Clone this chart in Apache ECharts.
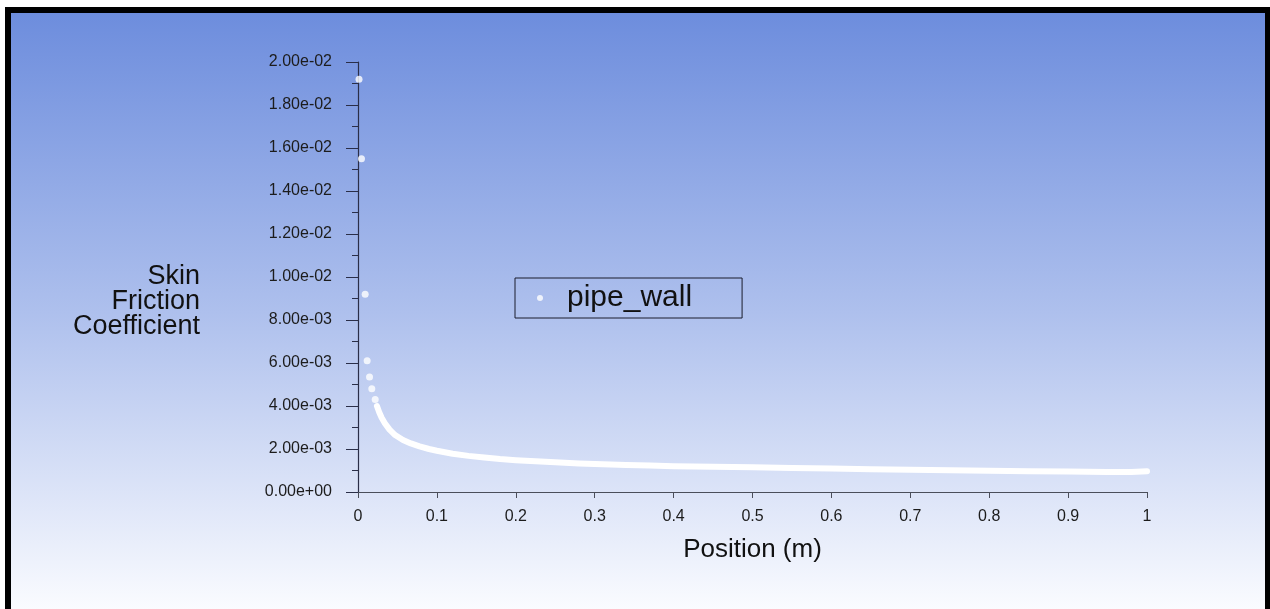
<!DOCTYPE html>
<html>
<head>
<meta charset="utf-8">
<script src="https://cdn.jsdelivr.net/npm/echarts@6/dist/echarts.min.js"></script>
<style>
html,body{margin:0;padding:0;background:#fff;}
#c{width:1270px;height:609px;}
</style>
</head>
<body>
<div id="c"></div>
<script>
// isolated leading points (x in m, Cf)
const leadX = [0.0013, 0.0044, 0.0091, 0.0116, 0.0146, 0.0175, 0.0218];
const leadY = [0.0192, 0.0155, 0.0092, 0.0061, 0.00535, 0.0048, 0.0043];
// dense part of the wall profile
const curveX = [0.024, 0.027, 0.030, 0.034, 0.040, 0.047, 0.057, 0.067, 0.078, 0.09, 0.10, 0.12, 0.14, 0.16, 0.18, 0.20, 0.225, 0.25, 0.28, 0.31, 0.34, 0.37, 0.40, 0.45, 0.50, 0.55, 0.60, 0.65, 0.70, 0.75, 0.80, 0.85, 0.90, 0.95, 0.98, 1.0];
const curveY = [0.0040, 0.0037, 0.00345, 0.0032, 0.0029, 0.00265, 0.00242, 0.00226, 0.00212, 0.0020, 0.00192, 0.00178, 0.00168, 0.0016, 0.00153, 0.00148, 0.00143, 0.00138, 0.00133, 0.00129, 0.00126, 0.00123, 0.0012, 0.00118, 0.00115, 0.00112, 0.00109, 0.00106, 0.00103, 0.00101, 0.00099, 0.00097, 0.00095, 0.00093, 0.00093, 0.00096];
const yTickLabels = ['0.00e+00','2.00e-03','4.00e-03','6.00e-03','8.00e-03','1.00e-02','1.20e-02','1.40e-02','1.60e-02','1.80e-02','2.00e-02'];
const xTickLabels = ['0','0.1','0.2','0.3','0.4','0.5','0.6','0.7','0.8','0.9','1'];
const seriesName = 'pipe_wall';
const yTitleLines = ['Skin', 'Friction', 'Coefficient'];

const chart = echarts.init(document.getElementById('c'));
const font = '"Liberation Sans", Arial, sans-serif';
const leadData = leadX.map((x, i) => [x, leadY[i]]);
const curveData = curveX.map((x, i) => [x, curveY[i]]);

chart.setOption({
  backgroundColor: '#ffffff',
  animation: false,
  graphic: [
    { type: 'rect', z: -20, silent: true, shape: { x: 5, y: 7, width: 1270, height: 610 }, style: { fill: '#000' } },
    { type: 'rect', z: -19, silent: true, shape: { x: 11, y: 13, width: 1254, height: 600 },
      style: { fill: new echarts.graphic.LinearGradient(0, 0, 0, 1, [
        { offset: 0, color: '#6d8ddd' },
        { offset: 0.5, color: '#aec0ed' },
        { offset: 1, color: '#fbfcff' }
      ]) } }
  ],
  grid: { left: 358, top: 62, width: 789, height: 430, containLabel: false },
  legend: {
    data: [seriesName],
    left: 515, top: 278,
    orient: 'horizontal',
    icon: 'circle',
    itemWidth: 44, itemHeight: 6,
    padding: [3, 50, 3, 22],
    borderColor: '#1a1c2c', borderWidth: 1,
    textStyle: { fontFamily: font, fontSize: 30, color: '#111', lineHeight: 34 }
  },
  xAxis: {
    type: 'value', min: 0, max: 1, interval: 0.1,
    name: 'Position (m)', nameLocation: 'middle', nameGap: 45,
    nameTextStyle: { fontFamily: font, fontSize: 26, color: '#111' },
    axisLine: { show: true, onZero: false, lineStyle: { color: '#4a4e5a', width: 1.2 } },
    axisTick: { show: true, inside: false, length: 6, lineStyle: { color: '#4a4e5a' } },
    axisLabel: { margin: 17, fontFamily: font, fontSize: 16, color: '#1c1c1c',
      formatter: v => xTickLabels[Math.round(v * 10)] },
    splitLine: { show: false }
  },
  yAxis: {
    type: 'value', min: 0, max: 0.02, interval: 0.002,
    name: '\n\n' + yTitleLines.join('\n'), nameLocation: 'middle', nameGap: 158, nameRotate: 0,
    nameTextStyle: { fontFamily: font, fontSize: 27, lineHeight: 25, color: '#111', align: 'right', verticalAlign: 'middle' },
    axisLine: { show: true, lineStyle: { color: '#2a2e48', width: 1.2 } },
    axisTick: { show: true, inside: false, length: 12, lineStyle: { color: '#2a2e48' } },
    minorTick: { show: true, splitNumber: 2, length: 6, lineStyle: { color: '#2a2e48' } },
    axisLabel: { margin: 26, fontFamily: font, fontSize: 16, color: '#1c1c1c',
      formatter: v => yTickLabels[Math.round(v / 0.002)] },
    splitLine: { show: false }
  },
  series: [
    { name: seriesName, type: 'scatter', data: leadData, symbol: 'circle', symbolSize: 7,
      itemStyle: { color: '#ffffff' }, z: 3 },
    { name: seriesName, type: 'line', data: curveData, showSymbol: false, symbol: 'circle',
      itemStyle: { color: '#ffffff' },
      lineStyle: { color: '#ffffff', width: 6, cap: 'round', join: 'round' }, z: 3 }
  ]
});
</script>
</body>
</html>
